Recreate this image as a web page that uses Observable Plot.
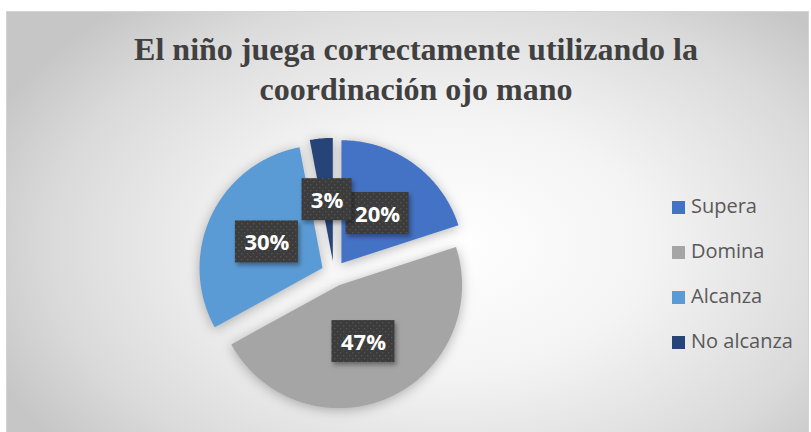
<!DOCTYPE html>
<html>
<head>
<meta charset="utf-8">
<script src="https://cdn.jsdelivr.net/npm/d3@7"></script>
<script src="https://cdn.jsdelivr.net/npm/@observablehq/plot@0.6"></script>
<style>
  html, body { margin: 0; padding: 0; background: #ffffff; }
  #wrap { position: relative; width: 811px; height: 432px; overflow: hidden; background: #ffffff; }
  #frame { position: absolute; left: 6px; top: 11px; width: 803px; height: 425px;
    border: 1px solid #d4d4d4; box-sizing: border-box;
    background: radial-gradient(ellipse 62% 75% at 55% 55%, #ffffff 0%, #f4f4f4 40%, #dadada 80%, #c6c6c6 100%); }
  #title { position: absolute; left: 416px; top: 29px; transform: translateX(-50%);
    font-family: "Liberation Serif", "Times New Roman", serif; font-weight: bold; font-size: 32px;
    line-height: 40px; color: #404040; text-align: center; white-space: nowrap; }
  #chart { position: absolute; left: 0; top: 0; }
  .leg { position: absolute; font-family: "Open Sans", sans-serif; font-size: 20px; line-height: 28px; color: #595959; white-space: nowrap; }
  .sw { position: absolute; width: 13px; height: 13px; }
</style>
</head>
<body>
<div id="wrap">
  <div id="frame"></div>
  <div id="title">El niño juega correctamente utilizando la<br>coordinación ojo mano</div>
  <div id="chart"></div>
  <div id="legend"></div>
</div>
<script>
const categories = ["Supera", "Domina", "Alcanza", "No alcanza"];
const values = [20, 47, 30, 3];
const labels = ["20%", "47%", "30%", "3%"];
const colors = ["#4472C4", "#A5A5A5", "#5B9BD5", "#264478"];

// geometry (in pie-radius units)
const W = 811, H = 432, R = 123;          // radius in px
const cx = 333.5, cy = 273;                // pie centre in px
const explode = 0.103;                     // explosion, radius units

const arcs = d3.pie().sort(null).value(d => d)(values);
const polyData = [];
const labelData = [];
arcs.forEach((a, i) => {
  const mid = (a.startAngle + a.endAngle) / 2;
  const ox = explode * Math.sin(mid), oy = explode * Math.cos(mid);
  polyData.push({cat: categories[i], x: ox, y: oy});
  const n = Math.max(4, Math.ceil((a.endAngle - a.startAngle) / 0.01));
  for (let k = 0; k <= n; k++) {
    const t = a.startAngle + (a.endAngle - a.startAngle) * k / n;
    polyData.push({cat: categories[i], x: ox + Math.sin(t), y: oy + Math.cos(t)});
  }
  polyData.push({cat: categories[i], x: ox, y: oy});
  labelData.push({cat: categories[i], label: labels[i], x: ox + 0.5 * Math.sin(mid), y: oy + 0.5 * Math.cos(mid)});
});

const xDomain = [-cx / R, (W - cx) / R];
const yDomain = [-(H - cy) / R, cy / R];

const plot = Plot.plot({
  width: W, height: H,
  margin: 0,
  style: {background: "transparent", overflow: "visible"},
  x: {domain: xDomain, axis: null},
  y: {domain: yDomain, axis: null},
  color: {domain: categories, range: colors},
  marks: [
    Plot.line(polyData, {x: "x", y: "y", z: "cat", fill: "cat", stroke: "none", curve: "linear-closed"}),
    Plot.rect(labelData.filter(d => d.label.length > 2), {x1: "x", x2: "x", y1: "y", y2: "y",
      insetLeft: -31.5, insetRight: -31.5, insetTop: -21, insetBottom: -21, fill: "url(#dots)"}),
    Plot.rect(labelData.filter(d => d.label.length <= 2), {x1: "x", x2: "x", y1: "y", y2: "y",
      insetLeft: -25, insetRight: -25, insetTop: -21, insetBottom: -21, fill: "url(#dots)"}),
    Plot.text(labelData, {x: "x", y: "y", text: "label", fill: "white", fontSize: 22, fontWeight: "bold",
      fontFamily: "Open Sans", dy: 1})
  ]
});
document.getElementById("chart").appendChild(plot);

// defs: dotted pattern + shadows
const svg = d3.select(plot);
const defs = svg.insert("defs", ":first-child");
const pat = defs.append("pattern").attr("id", "dots").attr("patternUnits", "userSpaceOnUse")
  .attr("width", 6).attr("height", 6);
pat.append("rect").attr("width", 6).attr("height", 6).attr("fill", "#3c3c3c");
pat.append("rect").attr("x", 1).attr("y", 1).attr("width", 1.3).attr("height", 1.3).attr("fill", "#555555");
pat.append("rect").attr("x", 4).attr("y", 4).attr("width", 1.3).attr("height", 1.3).attr("fill", "#555555");
svg.selectAll('g[aria-label="line"]').style("filter", "drop-shadow(0px 2px 6px rgba(0,0,0,0.28))");
svg.selectAll('g[aria-label="rect"]').style("filter", "drop-shadow(2px 3px 2px rgba(0,0,0,0.35))");

// legend
const legend = document.getElementById("legend");
categories.forEach((c, i) => {
  const sw = document.createElement("div");
  sw.className = "sw";
  sw.style.left = "672px";
  sw.style.top = (201 + 45 * i) + "px";
  sw.style.background = colors[i];
  legend.appendChild(sw);
  const t = document.createElement("div");
  t.className = "leg";
  t.style.left = "691px";
  t.style.top = (192 + 45 * i) + "px";
  t.textContent = c;
  legend.appendChild(t);
});
</script>
</body>
</html>
